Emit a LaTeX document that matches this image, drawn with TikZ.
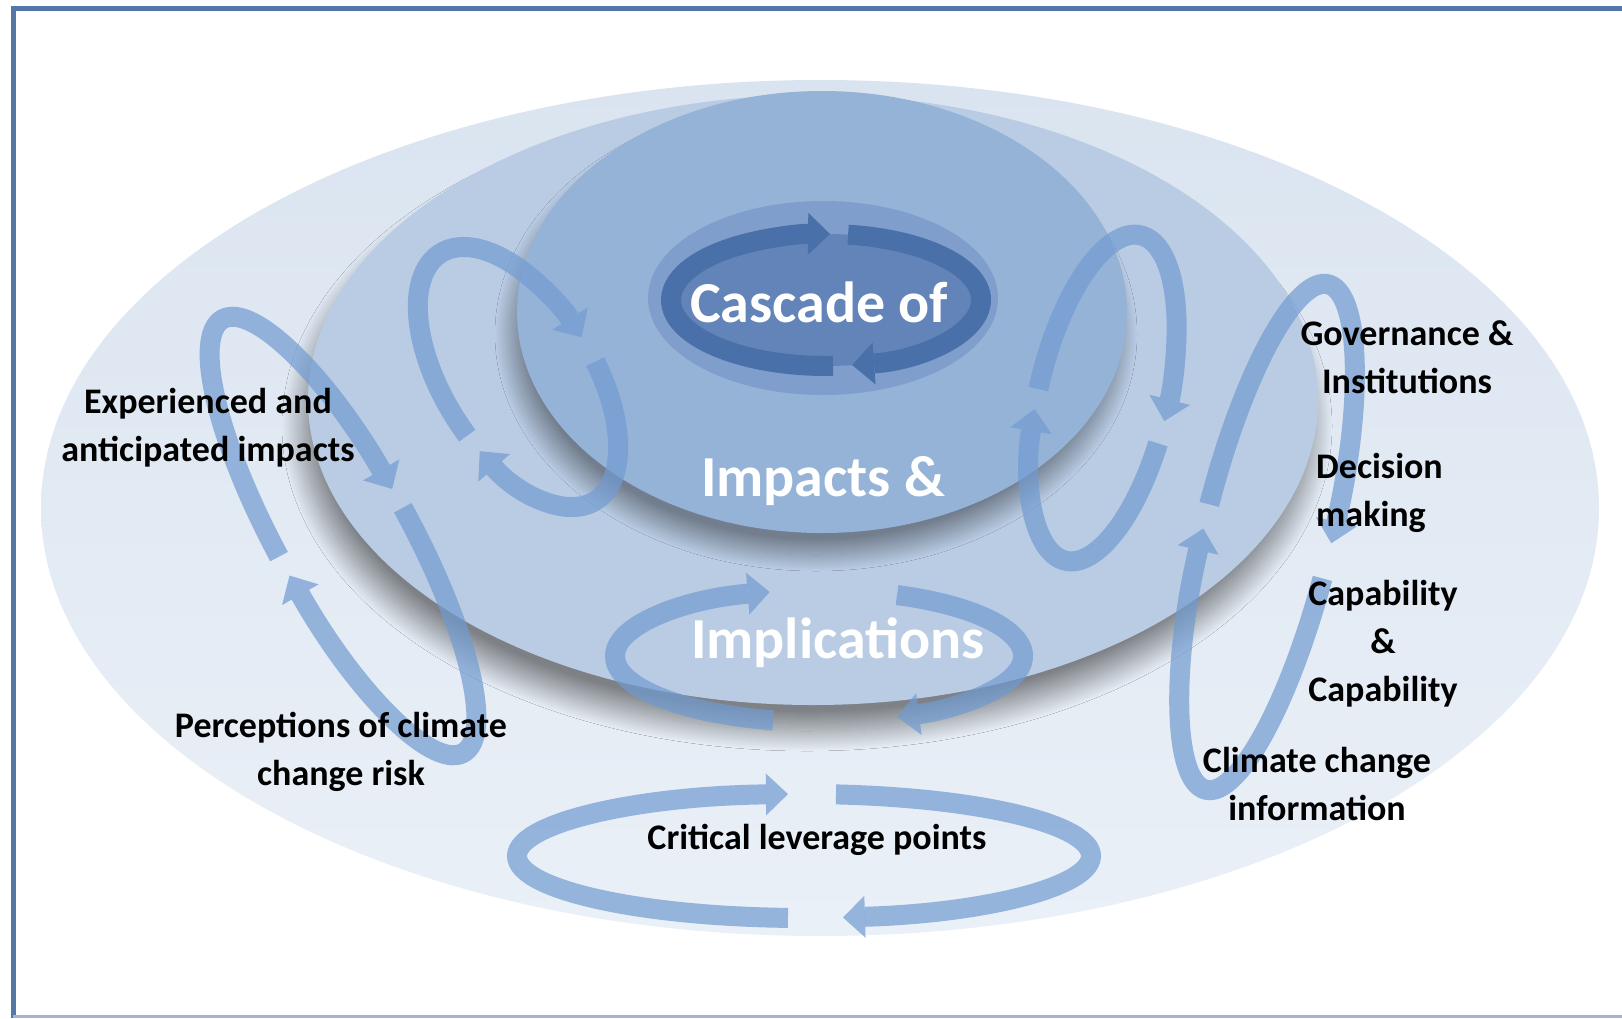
\documentclass[tikz,border=0pt]{standalone}
\usepackage{fontspec}
\setmainfont{Carlito}
\usetikzlibrary{arrows.meta,shadows.blur}
\definecolor{frameC}{RGB}{84,120,165}
\definecolor{outerTop}{RGB}{218,228,240}
\definecolor{outerBot}{RGB}{234,240,247}
\definecolor{medC}{RGB}{185,204,228}
\definecolor{innC}{RGB}{149,179,215}
\definecolor{haloC}{RGB}{128,158,203}
\definecolor{ringIn}{RGB}{99,132,184}
\definecolor{ringC}{RGB}{74,112,170}
\definecolor{arrowC}{RGB}{113,155,209}
\begin{document}
\begin{tikzpicture}[x=1pt,y=1pt,
  tipC/.style={-{Triangle[length=22pt,width=42pt,line width=0pt]}},
  cycarrow/.style={line width=20pt, draw=arrowC, opacity=0.7, line cap=butt, tipC},
  ringarrow/.style={line width=20pt, draw=ringC, line cap=butt, tipC},
  lbl/.style={font=\fontsize{36}{48}\selectfont\bfseries, text=black, align=center, inner sep=0pt},
  big/.style={font=\fontsize{58}{70}\selectfont\bfseries, text=white, inner sep=0pt}]
\useasboundingbox (0,0) rectangle (1622,-1018);
\fill[white] (0,0) rectangle (1622,-1018);
% frame
\draw[frameC, line width=5pt] (13,-1018) -- (13,-8.5) -- (1622,-8.5);
\draw[frameC!55, line width=3pt] (13,-1016.5) -- (1622,-1016.5);
% outer ellipse
\shade[top color=outerTop, bottom color=outerBot] (820,-508) ellipse [x radius=779pt, y radius=428pt];
% medium disk
\fill[medC, blur shadow={shadow xshift=-6pt, shadow yshift=-26pt, shadow blur radius=20pt, shadow blur steps=40, shadow opacity=45}] (813,-400) ellipse [x radius=505pt, y radius=305pt];
% inner disk
\fill[innC, blur shadow={shadow xshift=-6pt, shadow yshift=-22pt, shadow blur radius=16pt, shadow blur steps=40, shadow opacity=38}] (822,-312) ellipse [x radius=305pt, y radius=221pt];
% halo and ring
\fill[haloC] (823,-298) ellipse [x radius=175pt, y radius=97pt];
\fill[ringIn] (826,-300) ellipse [x radius=155pt, y radius=66pt];
\begin{scope}[shift={(826,-300)}]
 \draw[ringarrow] (-87.4:155 and 66) arc[start angle=-87.4, end angle=-271.5, x radius=155, y radius=66];
 \draw[ringarrow] (-278.2:155 and 66) arc[start angle=-278.2, end angle=-440.3, x radius=155, y radius=66];
\end{scope}
% loop A (left outer)
\begin{scope}[shift={(343,-536)}, rotate=-61]
 \draw[cycarrow] (-93:248 and 66) arc[start angle=-93, end angle=-266, x radius=248, y radius=66];
 \draw[cycarrow] (-271:248 and 66) arc[start angle=-271, end angle=-448, x radius=248, y radius=66];
\end{scope}
% loop B (left inner)
\begin{scope}[shift={(518,-377)}, rotate=-58]
 \draw[cycarrow] (-81:146 and 75) arc[start angle=-81, end angle=-270, x radius=146, y radius=75];
 \draw[cycarrow] (-281:146 and 75) arc[start angle=-281, end angle=-433, x radius=146, y radius=75];
\end{scope}
% loop C (right inner)
\begin{scope}[shift={(1103,-398)}, rotate=-103]
 \draw[cycarrow] (-88:167 and 65) arc[start angle=-88, end angle=-273, x radius=167, y radius=65];
 \draw[cycarrow] (-281:167 and 65) arc[start angle=-281, end angle=-441, x radius=167, y radius=65];
\end{scope}
% loop D (right outer)
\begin{scope}[shift={(1267,-537)}, rotate=-103.6]
 \draw[cycarrow] (-94:260 and 64) arc[start angle=-94, end angle=-268, x radius=260, y radius=64];
 \draw[cycarrow] (-276:260 and 64) arc[start angle=-276, end angle=-448.5, x radius=260, y radius=64];
\end{scope}
% implications loop
\begin{scope}[shift={(819,-656)}]
 \draw[cycarrow] (-103:204 and 66) arc[start angle=-103, end angle=-256, x radius=204, y radius=66];
 \draw[cycarrow] (-292.5:204 and 66) arc[start angle=-292.5, end angle=-427.5, x radius=204, y radius=66];
\end{scope}
% critical leverage loop
\begin{scope}[shift={(804,-856)}]
 \draw[cycarrow] (-93.2:287 and 62) arc[start angle=-93.2, end angle=-266.8, x radius=287, y radius=62];
 \draw[cycarrow] (-276.4:287 and 62) arc[start angle=-276.4, end angle=-442.2, x radius=287, y radius=62];
\end{scope}
% texts
\node[big] (cascade) at (819,-302) {Cascade of};
\node[big] (impacts) at (823,-481) {Impacts \&};
\node[big] (implic) at (838,-643) {Implications};
\node[lbl] (exp) at (208,-428) {Experienced and\\anticipated impacts};
\node[lbl] (perc) at (341,-752) {Perceptions of climate\\change risk};
\node[lbl] (gov) at (1407,-357) {Governance \&\\Institutions};
\node[lbl, align=left, anchor=west] (dec) at (1316,-493) {Decision\\making};
\node[lbl] (cap) at (1383,-644) {Capability\\\&\\Capability};
\node[lbl] (clim) at (1317,-784) {Climate change\\information};
\node[lbl] (crit) at (817,-840) {Critical leverage points};
\end{tikzpicture}
\end{document}
